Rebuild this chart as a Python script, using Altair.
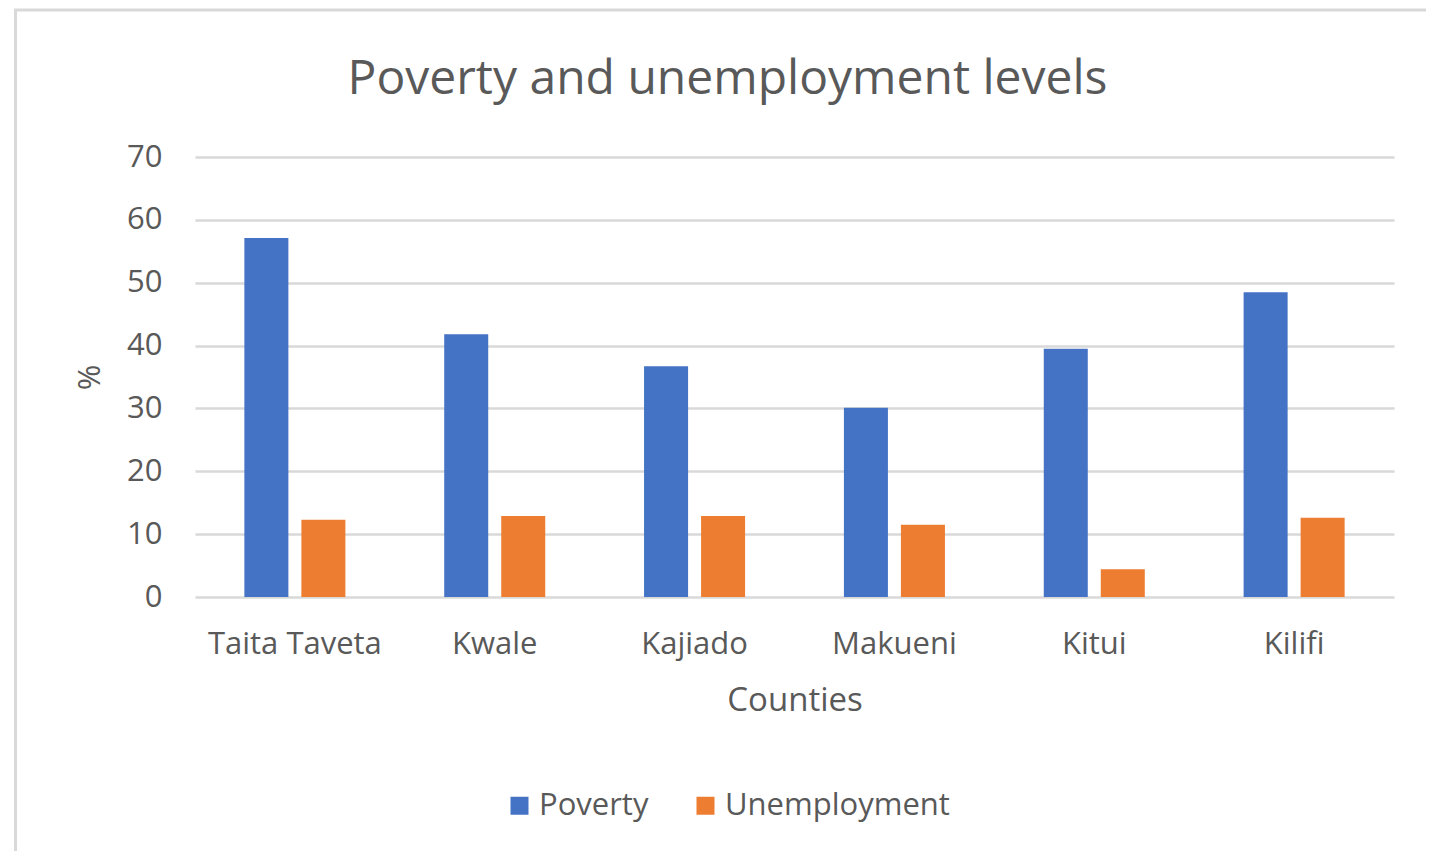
import altair as alt
import pandas as pd

counties = ["Taita Taveta", "Kwale", "Kajiado", "Makueni", "Kitui", "Kilifi"]
poverty = [57.1, 41.8, 36.7, 30.1, 39.5, 48.5]
unemployment = [12.3, 12.9, 12.9, 11.5, 4.4, 12.6]
series = ["Poverty", "Unemployment"]
colors = ["#4472C4", "#ED7D31"]
y_ticks = [0, 10, 20, 30, 40, 50, 60, 70]

rows = []
for c, p, u in zip(counties, poverty, unemployment):
    rows.append({"County": c, "Series": "Poverty", "Value": p})
    rows.append({"County": c, "Series": "Unemployment", "Value": u})
df = pd.DataFrame(rows)

FONT = "Open Sans"
TXT = "#595959"
GRID = "#D9D9D9"

border = alt.Chart(pd.DataFrame({"a": [0]})).mark_rect(
    fill="white", fillOpacity=0, stroke=GRID, strokeWidth=3
).encode(
    x=alt.value(-179.5), x2=alt.value(1400),
    y=alt.value(-147), y2=alt.value(800),
)

bars = alt.Chart(df).mark_bar().encode(
    x=alt.X(
        "County:N", sort=counties,
        scale=alt.Scale(paddingInner=0.4945, paddingOuter=0.247),
        axis=alt.Axis(
            title="Counties", labelAngle=0, domain=False, ticks=False, grid=False,
            labelPadding=32, labelFontSize=31, labelFont=FONT, labelColor=TXT,
            titleFontSize=33, titleFont=FONT, titleColor=TXT, titleFontWeight="normal",
            titleY=103, titleBaseline="middle",
        ),
    ),
    xOffset=alt.XOffset(
        "Series:N", sort=series,
        scale=alt.Scale(paddingInner=0.228, paddingOuter=0),
    ),
    y=alt.Y(
        "Value:Q", scale=alt.Scale(domain=[0, 70]),
        axis=alt.Axis(
            values=y_ticks, title="%", domain=False, ticks=False,
            grid=True, gridColor=GRID, gridWidth=2.5,
            labelPadding=33, labelFontSize=31, labelFont=FONT, labelColor=TXT,
            titleFontSize=31, titleFont=FONT, titleColor=TXT, titleFontWeight="normal",
            titleX=-105, titleY=220, titleAlign="center", titleBaseline="middle",
        ),
    ),
    color=alt.Color(
        "Series:N", sort=series,
        scale=alt.Scale(domain=series, range=colors),
        legend=alt.Legend(
            title=None, orient="none", direction="horizontal",
            legendX=309, legendY=633, symbolType="square", symbolSize=324,
            symbolStrokeWidth=0, labelFontSize=31, labelFont=FONT, labelColor=TXT,
            labelOffset=4, columnPadding=41, padding=0, labelLimit=400,
        ),
    ),
)

chart = alt.layer(border, bars).properties(
    width=1199, height=440,
    title=alt.TitleParams(
        "Poverty and unemployment levels", fontSize=48, font=FONT, color=TXT,
        fontWeight="normal", anchor="middle", dx=-67, offset=0, dy=95,
    ),
    padding={"left": 187, "top": 149, "right": 32, "bottom": 254},
    autosize=alt.AutoSizeParams(type="none"),
).configure_view(stroke=None)

chart.save("out.html", embed_options={"renderer": "svg", "actions": False})
